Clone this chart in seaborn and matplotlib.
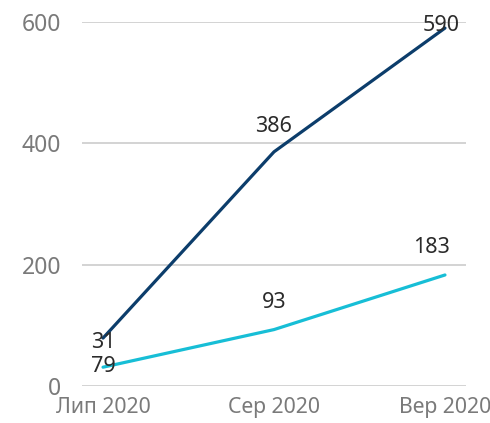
import matplotlib
matplotlib.use("Agg")
import matplotlib.pyplot as plt
import seaborn as sns
import pandas as pd

categories = ["Лип 2020", "Сер 2020", "Вер 2020"]
navy_values = [79, 386, 590]
cyan_values = [31, 93, 183]
yticks = [0, 200, 400, 600]

sns.set_theme(style="white")
plt.rcParams['font.family'] = ['Noto Sans', 'DejaVu Sans']

df = pd.DataFrame({
    "cat": categories * 2,
    "x": list(range(len(categories))) * 2,
    "value": navy_values + cyan_values,
    "series": ["navy"] * 3 + ["cyan"] * 3,
})

fig = plt.figure(figsize=(4.9, 4.23), dpi=100)
ax = fig.add_axes([82/490, 1-386/423, (466-82)/490, (386-22)/423])

palette = {"navy": "#0c3d6b", "cyan": "#17bed6"}
sns.lineplot(data=df, x="x", y="value", hue="series", palette=palette,
             linewidth=2.3, ax=ax, legend=False, clip_on=False)

ax.set_xlim(-0.123, 2.123)
ax.set_ylim(0, 600)
ax.set_yticks(yticks)
ax.set_yticklabels([str(v) for v in yticks])
ax.set_xticks(range(len(categories)))
ax.set_xticklabels(categories)
ax.set_xlabel("")
ax.set_ylabel("")
ax.grid(axis="y", color="#d0d0d0", linewidth=1.3)
ax.set_axisbelow(True)
for s in ax.spines.values():
    s.set_visible(False)
ax.tick_params(axis="both", length=0, labelcolor="#7a7a7a")
ax.tick_params(axis="y", pad=15, labelsize=16.5)
ax.tick_params(axis="x", pad=8, labelsize=15.3)

navy_offsets = [(0, -28), (0, 25), (-4, 3)]
cyan_offsets = [(0, 25), (0, 27), (-13, 27)]
for vals, offs in ((navy_values, navy_offsets), (cyan_values, cyan_offsets)):
    for i, (v, o) in enumerate(zip(vals, offs)):
        ax.annotate(str(v), (i, v), xytext=o, textcoords="offset pixels",
                    ha="center", va="center", fontsize=15.5, color="#2b2b2b",
                    fontweight="medium", annotation_clip=False)

fig.savefig("out.png", dpi=100)
